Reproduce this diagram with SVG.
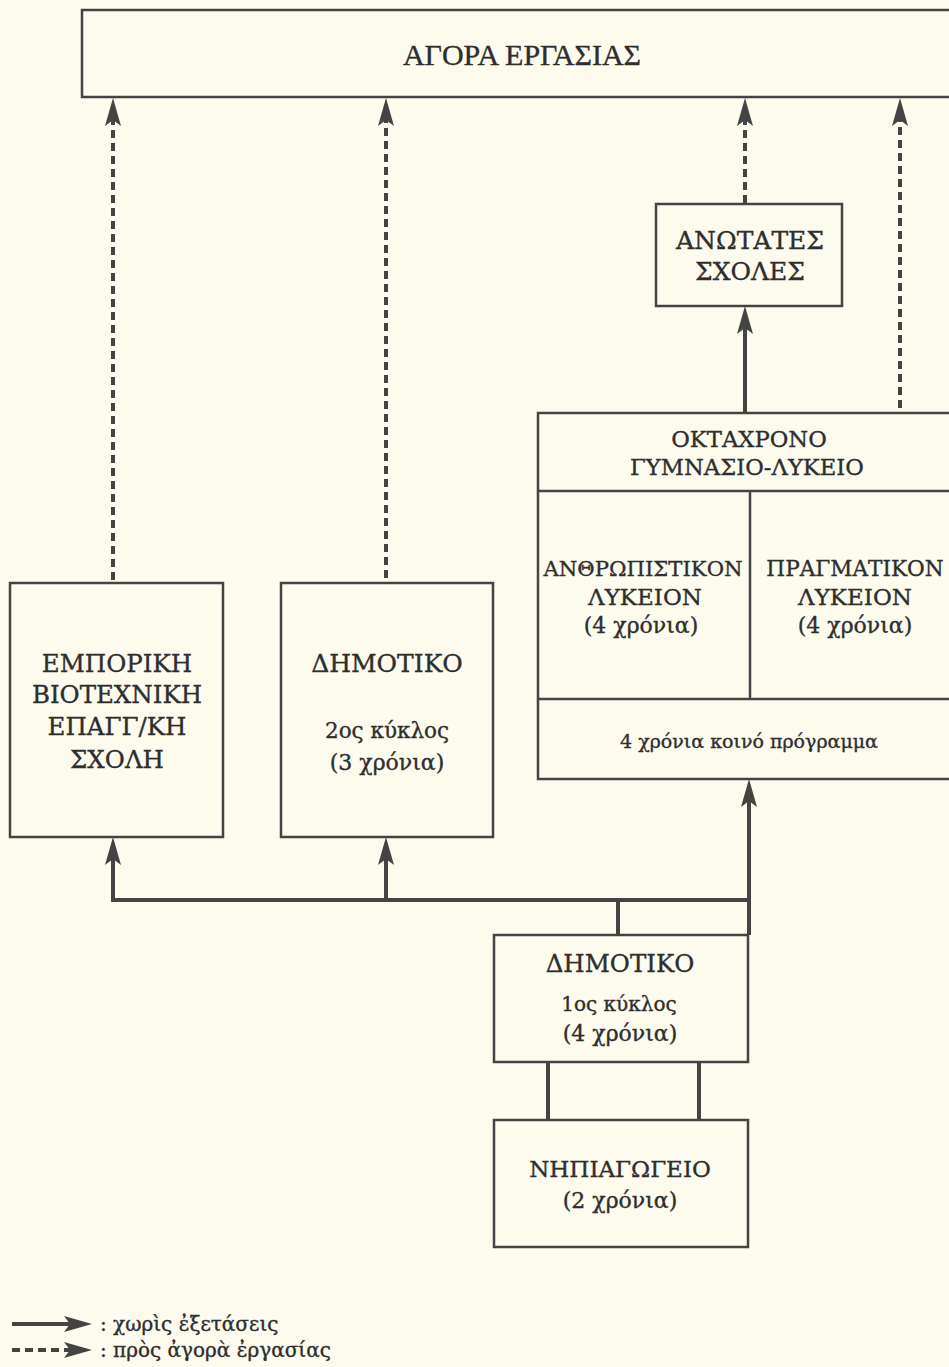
<svg xmlns="http://www.w3.org/2000/svg" width="949" height="1367" viewBox="0 0 949 1367">
<style>
.bg{fill:#fcfbee}
.box{fill:none;stroke:#444;stroke-width:2.5}
.t{font-family:"DejaVu Serif",serif;font-size:23px;fill:#2e2e2e;stroke:#2e2e2e;stroke-width:0.35;text-anchor:middle}
.s{font-family:"DejaVu Serif",serif;font-size:22px;fill:#2e2e2e;stroke:#2e2e2e;stroke-width:0.35;text-anchor:middle}
.lg{font-family:"DejaVu Serif",serif;font-size:20px;fill:#2e2e2e;stroke:#2e2e2e;stroke-width:0.35}
.ti{font-family:"Liberation Serif","Times New Roman",serif;font-size:30px;fill:#2e2e2e;stroke:#2e2e2e;stroke-width:0.35;text-anchor:middle}
.solid{fill:none;stroke:#444;stroke-width:4}
.dash{fill:none;stroke:#444;stroke-width:4;stroke-dasharray:8 5}
</style>
<defs>
<marker id="ah" viewBox="0 0 28 16" refX="14" refY="8" markerWidth="28" markerHeight="16" markerUnits="userSpaceOnUse" orient="auto">
<path d="M0,0 L28,8 L0,16 L6,8 z" fill="#444" stroke="none"/>
</marker>
</defs>
<rect class="bg" x="0" y="0" width="949" height="1367"/>

<g id="connectors">
<path class="dash" d="M113,580 V112" marker-end="url(#ah)"/>
<path class="dash" d="M386,578 V112" marker-end="url(#ah)"/>
<path class="dash" d="M745,203 V112" marker-end="url(#ah)"/>
<path class="dash" d="M900,408 V112" marker-end="url(#ah)"/>
<path class="solid" d="M745,413 V320" marker-end="url(#ah)"/>
<path class="solid" d="M113,900 V851" marker-end="url(#ah)"/>
<path class="solid" d="M386,900 V851" marker-end="url(#ah)"/>
<path class="solid" d="M749,935 V793" marker-end="url(#ah)"/>
<path class="solid" d="M111,900 H751"/>
<path class="solid" d="M618,900 V935"/>
<path class="solid" d="M548,1062 V1120"/>
<path class="solid" d="M699,1062 V1120"/>
</g>

<g id="agora">
<rect class="box" x="82" y="10" width="900" height="87"/>
<text class="ti" x="522" y="65">ΑΓΟΡΑ ΕΡΓΑΣΙΑΣ</text>
</g>

<g id="anotates">
<rect class="box" x="656" y="204" width="186" height="102"/>
<text class="t" x="750" y="249" style="font-size:25px">ΑΝΩΤΑΤΕΣ</text>
<text class="t" x="750" y="280" style="font-size:25px">ΣΧΟΛΕΣ</text>
</g>

<g id="oktaxrono">
<rect class="box" x="538" y="413" width="440" height="366"/>
<line class="box" x1="538" y1="491" x2="978" y2="491"/>
<line class="box" x1="538" y1="699" x2="978" y2="699"/>
<line class="box" x1="750" y1="491" x2="750" y2="699"/>
<text class="t" x="749" y="447" style="font-size:22.7px">ΟΚΤΑΧΡΟΝΟ</text>
<text class="t" x="747" y="475" style="font-size:22.7px">ΓΥΜΝΑΣΙΟ-ΛΥΚΕΙΟ</text>
<text class="s" x="749" y="748" style="font-size:19px">4 χρόνια κοινό πρόγραμμα</text>
</g>

<g id="anthropistikon">
<text class="t" x="643" y="576" style="font-size:21.2px">ΑΝΘΡΩΠΙΣΤΙΚΟΝ</text>
<text class="t" x="645" y="605">ΛΥΚΕΙΟΝ</text>
<text class="s" x="641" y="633">(4 χρόνια)</text>
</g>

<g id="pragmatikon">
<text class="t" x="855" y="576" style="font-size:21.6px">ΠΡΑΓΜΑΤΙΚΟΝ</text>
<text class="t" x="855" y="605">ΛΥΚΕΙΟΝ</text>
<text class="s" x="855" y="633">(4 χρόνια)</text>
</g>

<g id="emporiki">
<rect class="box" x="10" y="583" width="213" height="254"/>
<text class="t" x="117" y="672" style="font-size:24.5px">ΕΜΠΟΡΙΚΗ</text>
<text class="t" x="117" y="703" style="font-size:24.5px">ΒΙΟΤΕΧΝΙΚΗ</text>
<text class="t" x="117" y="735" style="font-size:24.5px">ΕΠΑΓΓ/ΚΗ</text>
<text class="t" x="117" y="768" style="font-size:24.5px">ΣΧΟΛΗ</text>
</g>

<g id="dimotiko2">
<rect class="box" x="281" y="583" width="212" height="254"/>
<text class="t" x="387" y="672" style="font-size:25px">ΔΗΜΟΤΙΚΟ</text>
<text class="s" x="387" y="738" style="font-size:21.5px">2ος κύκλος</text>
<text class="s" x="387" y="770">(3 χρόνια)</text>
</g>

<g id="dimotiko1">
<rect class="box" x="494" y="935" width="254" height="127"/>
<text class="t" x="620" y="972" style="font-size:24.5px">ΔΗΜΟΤΙΚΟ</text>
<text class="s" x="619" y="1011" style="font-size:20px">1ος κύκλος</text>
<text class="s" x="620" y="1041">(4 χρόνια)</text>
</g>

<g id="nipiagogeio">
<rect class="box" x="494" y="1120" width="254" height="127"/>
<text class="t" x="620" y="1177">ΝΗΠΙΑΓΩΓΕΙΟ</text>
<text class="s" x="620" y="1208">(2 χρόνια)</text>
</g>

<g id="legend">
<path class="solid" d="M12,1324 H78" marker-end="url(#ah)"/>
<path class="dash" d="M12,1350 H78" marker-end="url(#ah)"/>
<text class="lg" x="100" y="1331">: χωρὶς ἐξετάσεις</text>
<text class="lg" x="100" y="1357">: πρὸς ἀγορὰ ἐργασίας</text>
</g>
</svg>
